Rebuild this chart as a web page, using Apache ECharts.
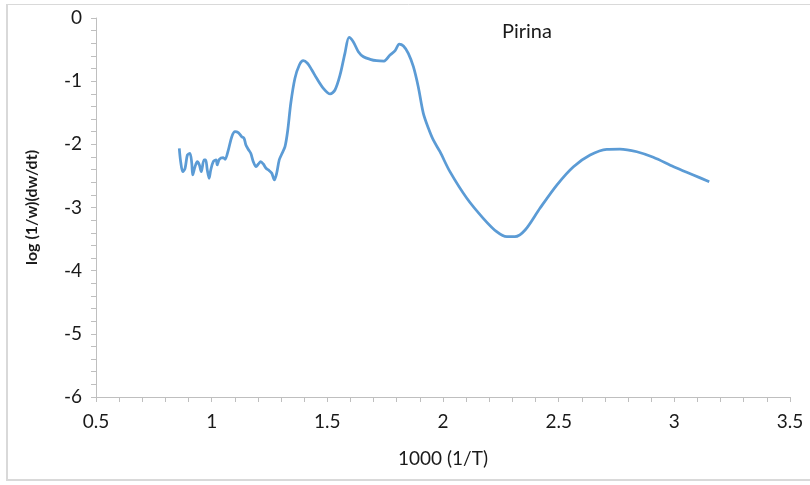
<!DOCTYPE html>
<html>
<head>
<meta charset="utf-8">
<script src="https://cdn.jsdelivr.net/npm/echarts@6/dist/echarts.min.js"></script>
<style>
  html, body { margin: 0; padding: 0; background: #fff; }
  #chart { width: 810px; height: 485px; }
</style>
</head>
<body>
<div id="chart"></div>
<script>
// Pirina: log of the normalised mass-loss rate against 1000/T
const invTemp = [
  0.860, 0.866, 0.875, 0.885, 0.895, 0.906, 0.914, 0.918, 0.928, 0.938,
  0.947, 0.955, 0.967, 0.974, 0.981, 0.989, 0.996, 1.007, 1.019, 1.024,
  1.033, 1.050, 1.058, 1.072, 1.087, 1.101, 1.115, 1.130, 1.140, 1.148,
  1.158, 1.169, 1.180, 1.192, 1.202, 1.212, 1.223, 1.235, 1.249, 1.260,
  1.271, 1.281, 1.292, 1.303, 1.317, 1.329, 1.342, 1.360, 1.379, 1.396,
  1.414, 1.433, 1.454, 1.483, 1.512, 1.533, 1.555, 1.576, 1.594, 1.612,
  1.634, 1.656, 1.685, 1.713, 1.745, 1.771, 1.793, 1.811, 1.829, 1.850,
  1.872, 1.893, 1.915, 1.937, 1.958, 1.987, 2.030, 2.103, 2.174, 2.232,
  2.276, 2.311, 2.355, 2.419, 2.492, 2.564, 2.636, 2.708, 2.765, 2.838,
  2.909, 2.997, 3.082, 3.151
];
const logRate = [
  -2.063, -2.275, -2.433, -2.379, -2.169, -2.142, -2.300, -2.485, -2.354, -2.275,
  -2.327, -2.433, -2.248, -2.248, -2.406, -2.538, -2.406, -2.275, -2.248, -2.327,
  -2.237, -2.211, -2.237, -2.090, -1.879, -1.800, -1.816, -1.879, -1.904, -2.010,
  -2.078, -2.142, -2.275, -2.354, -2.311, -2.275, -2.311, -2.379, -2.417, -2.458,
  -2.564, -2.458, -2.248, -2.153, -2.037, -1.773, -1.350, -0.955, -0.744, -0.676,
  -0.717, -0.823, -0.955, -1.113, -1.203, -1.140, -0.902, -0.559, -0.306, -0.375,
  -0.533, -0.613, -0.654, -0.676, -0.681, -0.586, -0.518, -0.412, -0.443, -0.559,
  -0.771, -1.088, -1.509, -1.746, -1.931, -2.117, -2.433, -2.854, -3.171, -3.383,
  -3.462, -3.462, -3.356, -3.012, -2.644, -2.354, -2.169, -2.078, -2.074, -2.117,
  -2.205, -2.354, -2.485, -2.591
];
const seriesName = 'Pirina';
const xTitle = '1000 (1/T)';
const yTitle = 'log (1/w)(dw/dt)';

const font = 'Lato, "Open Sans", sans-serif';
const inkColor = '#1a1a1a';
const axisGrey = '#BFBFBF';
const chart = echarts.init(document.getElementById('chart'), null, { renderer: 'canvas' });

chart.setOption({
  animation: false,
  backgroundColor: '#ffffff',
  graphic: [
    {
      type: 'polyline',
      shape: { points: [[7, 4], [7, 480], [810, 480]] },
      style: { fill: 'none', stroke: '#D9D9D9', lineWidth: 2 },
      silent: true
    },
    {
      type: 'line',
      shape: { x1: 7, y1: 4.5, x2: 810, y2: 4.5 },
      style: { stroke: '#D9D9D9', lineWidth: 1 },
      silent: true
    },
    {
      type: 'text',
      left: 502, top: 22,
      style: { text: seriesName, font: '20px ' + font, fill: inkColor }
    }
  ],
  grid: { left: 96, right: 20, top: 18, bottom: 88 },
  xAxis: {
    type: 'value',
    min: 0.5, max: 3.5, interval: 0.5,
    name: xTitle,
    nameLocation: 'middle',
    nameGap: 52,
    nameTextStyle: { fontFamily: font, fontSize: 19, color: inkColor },
    axisLine: { show: true, onZero: false, lineStyle: { color: axisGrey, width: 1 } },
    axisTick: { show: true, length: 5, lineStyle: { color: axisGrey } },
    minorTick: { show: true, splitNumber: 5, length: 5, lineStyle: { color: axisGrey } },
    splitLine: { show: false },
    axisLabel: { fontFamily: font, fontSize: 19, color: inkColor, margin: 15 }
  },
  yAxis: {
    type: 'value',
    min: -6, max: 0, interval: 1,
    name: yTitle,
    nameLocation: 'middle',
    nameGap: 56,
    nameTextStyle: { fontFamily: font, fontSize: 16, fontWeight: 'bold', color: inkColor },
    axisLine: { show: true, lineStyle: { color: axisGrey, width: 1 } },
    axisTick: { show: true, length: 5, lineStyle: { color: axisGrey } },
    minorTick: { show: true, splitNumber: 5, length: 5, lineStyle: { color: axisGrey } },
    splitLine: { show: false },
    axisLabel: { fontFamily: font, fontSize: 19, color: inkColor, margin: 14 }
  },
  series: [{
    name: seriesName,
    type: 'line',
    data: invTemp.map((x, i) => [x, logRate[i]]),
    smooth: 0.3,
    showSymbol: false,
    lineStyle: { color: '#5B9BD5', width: 2.75 }
  }]
});
</script>
</body>
</html>
